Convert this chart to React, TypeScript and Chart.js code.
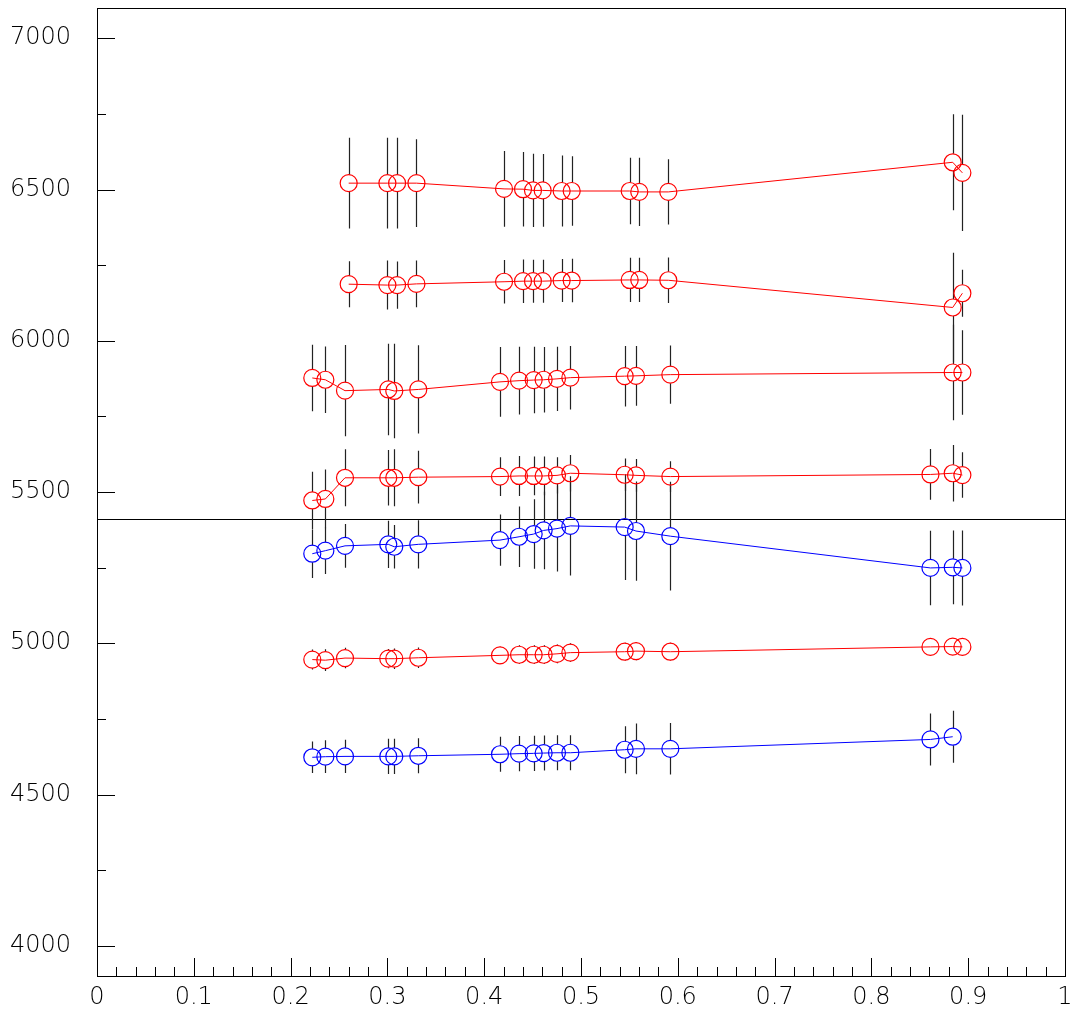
import React, { useEffect, useRef } from "react";
import { Chart, registerables } from "chart.js";

Chart.register(...registerables);

// ---------- data ----------
const xTickValues = [0, 0.1, 0.2, 0.3, 0.4, 0.5, 0.6, 0.7, 0.8, 0.9, 1];
const xTickLabels = ["0", "0.1", "0.2", "0.3", "0.4", "0.5", "0.6", "0.7", "0.8", "0.9", "1"];
const yTickValues = [4000, 4500, 5000, 5500, 6000, 6500, 7000];
const yTickLabels = ["4000", "4500", "5000", "5500", "6000", "6500", "7000"];
const referenceLine = 5410;

const xA = [0.26, 0.30, 0.31, 0.33, 0.4205, 0.4401, 0.4504, 0.4604, 0.48, 0.4904, 0.5503, 0.5602, 0.5902, 0.884, 0.894];
const yA = [6521, 6521, 6521, 6521, 6502, 6501, 6497, 6497, 6495, 6495, 6495, 6492, 6492, 6590, 6555];
const eA = [150, 150, 150, 145, 125, 123, 121, 120, 117, 115, 110, 113, 108, 159, 192];

const xB = [0.26, 0.30, 0.31, 0.33, 0.4205, 0.4401, 0.4504, 0.4604, 0.48, 0.4904, 0.5503, 0.5602, 0.5902, 0.884, 0.894];
const yB = [6187, 6184, 6184, 6188, 6195, 6197, 6197, 6197, 6199, 6199, 6201, 6201, 6200, 6110, 6157];
const eB = [76, 81, 78, 77, 72, 72, 71, 71, 71, 72, 73, 73, 75, 181, 78];

const xC = [0.2224, 0.2359, 0.2562, 0.3009, 0.3071, 0.3319, 0.4163, 0.436, 0.4511, 0.4614, 0.4752, 0.489, 0.5451, 0.5568, 0.5923, 0.884, 0.894];
const yC = [5877, 5871, 5835, 5839, 5834, 5839, 5864, 5868, 5870, 5871, 5874, 5878, 5883, 5884, 5888, 5895, 5895];
const eC = [110, 110, 151, 151, 156, 146, 115, 112, 110, 108, 106, 105, 100, 99, 96, 158, 140];

const xD = [0.2224, 0.2359, 0.2562, 0.3009, 0.3071, 0.3319, 0.4163, 0.436, 0.4511, 0.4614, 0.4752, 0.489, 0.5451, 0.5568, 0.5923, 0.861, 0.884, 0.894];
const yD = [5472, 5477, 5547, 5547, 5547, 5549, 5551, 5553, 5553, 5553, 5555, 5562, 5557, 5555, 5551, 5558, 5562, 5556];
const eD = [95, 97, 94, 92, 94, 87, 64, 66, 64, 64, 60, 60, 54, 54, 51, 84, 93, 75];

const xE = [0.2224, 0.2359, 0.2562, 0.3009, 0.3071, 0.3319, 0.4163, 0.436, 0.4511, 0.4614, 0.4752, 0.489, 0.5451, 0.5568, 0.5923, 0.861, 0.884, 0.894];
const yE = [5296, 5306, 5322, 5327, 5319, 5327, 5341, 5352, 5361, 5373, 5379, 5388, 5384, 5371, 5354, 5249, 5251, 5249];
const eE = [80, 77, 72, 78, 72, 80, 85, 100, 115, 128, 142, 164, 175, 164, 180, 123, 122, 124];

const xF = [0.2224, 0.2359, 0.2562, 0.3009, 0.3071, 0.3319, 0.4163, 0.436, 0.4511, 0.4614, 0.4752, 0.489, 0.5451, 0.5568, 0.5923, 0.861, 0.884, 0.894];
const yF = [4946, 4944, 4951, 4949, 4949, 4952, 4960, 4962, 4962, 4962, 4965, 4969, 4972, 4974, 4972, 4988, 4989, 4988];
const eF = [33, 36, 34, 32, 34, 34, 29, 31, 31, 31, 31, 31, 30, 30, 30, 22, 22, 22];

const xG = [0.2224, 0.2359, 0.2562, 0.3009, 0.3071, 0.3319, 0.4163, 0.436, 0.4511, 0.4614, 0.4752, 0.489, 0.5451, 0.5568, 0.5923, 0.861, 0.884];
const yG = [4623, 4625, 4626, 4626, 4626, 4628, 4633, 4635, 4636, 4637, 4638, 4638, 4648, 4651, 4651, 4682, 4691];
const eG = [52, 54, 55, 58, 58, 58, 58, 58, 58, 58, 58, 58, 78, 84, 85, 86, 86];

const RED = "#ff0000";
const BLUE = "#0000ff";
const FONT = "200 24px 'DejaVu Sans', sans-serif";

const seriesList = [
  { x: xA, y: yA, e: eA, color: RED },
  { x: xB, y: yB, e: eB, color: RED },
  { x: xC, y: yC, e: eC, color: RED },
  { x: xD, y: yD, e: eD, color: RED },
  { x: xE, y: yE, e: eE, color: BLUE },
  { x: xF, y: yF, e: eF, color: RED },
  { x: xG, y: yG, e: eG, color: BLUE },
];

const MARKER_R = 8.5;

const framePlugin = {
  id: "rootFrame",
  beforeDatasetsDraw(chart: any) {
    const { ctx, chartArea, scales } = chart;
    const xs = scales.x;
    const ys = scales.y;
    const { left, right } = chartArea;
    ctx.save();
    // reference line
    ctx.strokeStyle = "#000";
    ctx.lineWidth = 1.2;
    const yr = Math.round(ys.getPixelForValue(referenceLine)) + 0.5;
    ctx.beginPath();
    ctx.moveTo(left, yr);
    ctx.lineTo(right, yr);
    ctx.stroke();

    // error bars
    ctx.strokeStyle = "#222";
    ctx.lineWidth = 1.2;
    chart.data.datasets.forEach((ds: any) => {
      const errs: number[] = ds.errors || [];
      ds.data.forEach((p: any, i: number) => {
        const e = errs[i] || 0;
        const px = Math.round(xs.getPixelForValue(p.x)) + 0.5;
        const pc = ys.getPixelForValue(p.y);
        const pt = ys.getPixelForValue(p.y + e);
        const pb = ys.getPixelForValue(p.y - e);
        ctx.beginPath();
        if (pc - pt > MARKER_R) {
          ctx.moveTo(px, pt);
          ctx.lineTo(px, pc - MARKER_R);
        }
        if (pb - pc > MARKER_R) {
          ctx.moveTo(px, pc + MARKER_R);
          ctx.lineTo(px, pb);
        }
        ctx.stroke();
      });
    });
    ctx.restore();
  },
  afterDraw(chart: any) {
    const { ctx, chartArea, scales } = chart;
    const xs = scales.x;
    const ys = scales.y;
    const { left, right, top, bottom } = chartArea;
    ctx.save();
    ctx.strokeStyle = "#000";
    ctx.lineWidth = 1;
    // frame
    ctx.strokeRect(Math.round(left) + 0.5, Math.round(top) + 0.5, Math.round(right - left), Math.round(bottom - top));

    // x ticks (major 0.1, minor 0.02)
    ctx.beginPath();
    for (let k = 0; k <= 50; k++) {
      const v = k / 50;
      const px = Math.round(xs.getPixelForValue(v)) + 0.5;
      const len = k % 5 === 0 ? 18 : 9;
      ctx.moveTo(px, bottom);
      ctx.lineTo(px, bottom - len);
    }
    // y ticks (major 500, minor 250)
    for (let v = 4000; v <= 7000; v += 250) {
      const py = Math.round(ys.getPixelForValue(v)) + 0.5;
      const len = v % 500 === 0 ? 18 : 9;
      ctx.moveTo(left, py);
      ctx.lineTo(left + len, py);
    }
    ctx.stroke();

    // labels
    ctx.fillStyle = "#000";
    ctx.font = FONT;
    ctx.textAlign = "right";
    ctx.textBaseline = "middle";
    yTickValues.forEach((v, i) => {
      ctx.fillText(yTickLabels[i], left - 26, ys.getPixelForValue(v));
    });
    ctx.textAlign = "center";
    xTickValues.forEach((v, i) => {
      ctx.fillText(xTickLabels[i], xs.getPixelForValue(v), bottom + 22);
    });
    ctx.restore();
  },
};

export default function App() {
  const ref = useRef<HTMLCanvasElement | null>(null);
  useEffect(() => {
    if (!ref.current) return;
    const chart = new Chart(ref.current, {
      type: "line",
      data: {
        datasets: seriesList.map((s) => ({
          data: s.x.map((x, i) => ({ x, y: s.y[i] })),
          errors: s.e,
          borderColor: s.color,
          borderWidth: 1,
          pointRadius: MARKER_R,
          pointBorderWidth: 1.2,
          pointBorderColor: s.color,
          pointBackgroundColor: "rgba(0,0,0,0)",
          pointStyle: "circle",
          fill: false,
          tension: 0,
          clip: false,
        })) as any,
      },
      options: {
        animation: false,
        responsive: false,
        devicePixelRatio: 1,
        layout: { autoPadding: false, padding: { left: 97, right: 6, top: 8, bottom: 37 } },
        scales: {
          x: { type: "linear", min: 0, max: 1, display: false },
          y: { type: "linear", min: 3900, max: 7100, display: false },
        },
        plugins: { legend: { display: false }, tooltip: { enabled: false } },
        events: [],
      },
      plugins: [framePlugin],
    });
    return () => chart.destroy();
  }, []);
  return (
    <div style={{ position: "fixed", left: 0, top: 0, width: 1071, height: 1013, background: "#fff" }}>
      <canvas ref={ref} width={1071} height={1013} style={{ width: 1071, height: 1013, display: "block" }} />
    </div>
  );
}
